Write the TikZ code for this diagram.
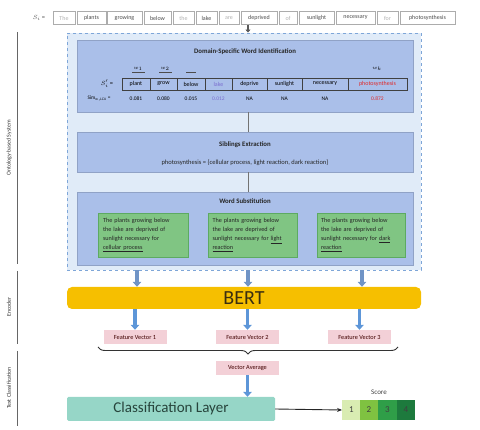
\documentclass[tikz,border=0pt]{standalone}
\usepackage{fontspec}
\setmainfont{Carlito}
\usetikzlibrary{arrows.meta,decorations.pathreplacing,calc}
\definecolor{ontfill}{HTML}{E0EBF8}
\definecolor{ontdraw}{HTML}{7EA6D8}
\definecolor{panel}{HTML}{AABFE9}
\definecolor{gbox}{HTML}{80C583}
\definecolor{gdraw}{HTML}{5DAA62}
\definecolor{bertc}{HTML}{F6BF00}
\definecolor{berttxt}{HTML}{3A2E10}
\definecolor{pinkc}{HTML}{F3D0D7}
\definecolor{clsc}{HTML}{96D6C7}
\definecolor{clstxt}{HTML}{27443C}
\definecolor{arrA}{HTML}{7094C6}
\definecolor{arrB}{HTML}{5D96D8}
\definecolor{purp}{HTML}{7B6FD0}
\definecolor{redw}{HTML}{E02828}
\definecolor{sc1}{HTML}{D9ECB2}
\definecolor{sc2}{HTML}{7FC241}
\definecolor{sc3}{HTML}{2F9E48}
\definecolor{sc4}{HTML}{1D7A3D}
\tikzset{
  word/.style={draw=gray!65, fill=white, minimum height=13pt, inner sep=0pt,
    font=\fontsize{6}{7}\selectfont, text=black!70},
  stopw/.style={word, text=black!30},
  sword/.style={draw=black!75, line width=0.6pt, minimum height=12pt, inner sep=0pt,
    font=\fontsize{6}{7}\selectfont},
  val/.style={font=\fontsize{5.5}{6}\selectfont, inner sep=0pt},
  panelbox/.style={fill=panel, draw=panel!85!black, line width=0.3pt, minimum width=336pt, inner sep=0pt},
  ptitle/.style={font=\bfseries\fontsize{6.8}{8}\selectfont, text=black!85, inner sep=0pt},
  greenbox/.style={fill=gbox, draw=gdraw, line width=0.4pt, minimum height=44pt, text width=80pt,
    inner sep=0pt, align=left, font=\fontsize{6.2}{9}\selectfont, text=black!85},
  fv/.style={fill=pinkc, minimum width=63pt, minimum height=14pt, inner sep=0pt,
    font=\fontsize{6.3}{7}\selectfont, text=black!75!red},
  fatA/.style={draw=arrA, line width=3.2pt, -{Triangle[length=5pt,width=8.5pt]}},
  fatB/.style={draw=arrB, line width=3.2pt, -{Triangle[length=5pt,width=8.5pt]}},
  link/.style={draw=black!55, line width=1pt},
  side/.style={font=\fontsize{5.8}{7}\selectfont, text=black!80, rotate=90, inner sep=0pt},
  sideline/.style={draw=black!60, line width=0.8pt},
  scorebox/.style={minimum width=18.5pt, minimum height=20pt, inner sep=0pt,
    font=\fontsize{9}{10}\selectfont, text=black!75},
}
\begin{document}
\begin{tikzpicture}[x=1pt,y=-1pt]
\useasboundingbox (0,0) rectangle (480,430);
\coordinate (ax) at (248,0);

% top sentence
\node[inner sep=0pt, font=\fontsize{6.5}{7}\selectfont, text=black!70] (si) at (39,18) {$S_i$ =};
\node[stopw, minimum width=22pt] (w1) at (64,18) {The};
\node[word, minimum width=29pt] (w2) at (91.5,18) {plants};
\node[word, minimum width=35pt] (w3) at (124.5,18) {growing};
\node[word, minimum width=27pt] (w4) at (157.5,18) {below};
\node[stopw, minimum width=21pt] (w5) at (183.5,18) {the};
\node[word, minimum width=21pt] (w6) at (206.5,18) {lake};
\node[stopw, minimum width=20pt] (w7) at (229,18) {are};
\node[word, minimum width=36pt] (w8) at (259,18) {deprived};
\node[stopw, minimum width=18pt] (w9) at (288,18) {of};
\node[word, minimum width=35pt] (w10) at (316.5,18) {sunlight};
\node[word, minimum width=39pt] (w11) at (355.5,18) {necessary};
\node[stopw, minimum width=21pt] (w12) at (387.5,18) {for};
\node[word, minimum width=55pt] (w13) at (427.5,18) {photosynthesis};

% outer dashed ontology box
\node[fill=ontfill, draw=ontdraw, dashed, line width=0.9pt, minimum width=354pt, minimum height=237pt, inner sep=0pt] (ont) at (244,151.5) {};

\draw[draw=black!65, line width=2.2pt, -{Triangle[length=3pt,width=5pt]}] (ax |- w8.south) -- (ax |- ont.north);

% domain-specific word identification
\node[panelbox, minimum height=72pt] (dom) at (245,76) {};
\node[ptitle] (domt) at (245,52) {Domain-Specific Word Identification};
\node[inner sep=0pt, font=\fontsize{6.5}{7}\selectfont] (sp) at (107,84) {$S'_i$ =};
\node[sword, minimum width=28pt] (s1) at (136,84) {plant};
\node[sword, minimum width=27pt] (s2) at (163.5,84) {grow};
\node[sword, minimum width=28pt] (s3) at (191,84) {below};
\node[sword, minimum width=27pt, text=purp] (s4) at (218.5,84) {lake};
\node[sword, minimum width=35pt] (s5) at (249.5,84) {deprive};
\node[sword, minimum width=35pt] (s6) at (284.5,84) {sunlight};
\node[sword, minimum width=46pt] (s7) at (325,84) {necessary};
\node[sword, minimum width=59pt, text=redw] (s8) at (377.5,84) {photosynthesis};
\node[inner sep=0pt, font=\fontsize{5.5}{6}\selectfont] (k1) at (138,69) {$w_1$};
\node[inner sep=0pt, font=\fontsize{5.5}{6}\selectfont] (k2) at (165,69) {$w_2$};
\node[inner sep=0pt, font=\fontsize{5.5}{6}\selectfont] (k8) at (377,69) {$w_k$};
\draw[black!70, line width=0.4pt] (132,73) -- (132,72) -- (144,72) -- (144,73);
\draw[black!70, line width=0.4pt] (159,73) -- (159,72) -- (171,72) -- (171,73);
\draw[black!70, line width=0.4pt] (186,72) -- (196,72);
\node[val, font=\fontsize{5.3}{6}\selectfont] (sl) at (99,99) {Sim$_{\mathit{w},\mathit{LCA}}$ =};
\node[val] (v1) at (s1 |- 0,99) {0.081};
\node[val] (v2) at (s2 |- 0,99) {0.080};
\node[val] (v3) at (s3 |- 0,99) {0.015};
\node[val, text=purp] (v4) at (s4 |- 0,99) {0.012};
\node[val] (v5) at (s5 |- 0,99) {NA};
\node[val] (v6) at (s6 |- 0,99) {NA};
\node[val] (v7) at (s7 |- 0,99) {NA};
\node[val, text=redw] (v8) at (s8 |- 0,99) {0.872};

% siblings extraction
\node[panelbox, minimum height=40pt] (sib) at (245,152) {};
\node[ptitle] (sibt) at (245,145) {Siblings Extraction};
\node[inner sep=0pt, font=\fontsize{6.5}{7}\selectfont, text=black!85] (sibx) at (245,163) {photosynthesis = \{cellular process, light reaction, dark reaction\}};
\draw[link] (ax |- dom.south) -- (ax |- sib.north);

% word substitution
\node[panelbox, minimum height=73pt] (sub) at (245,228.5) {};
\node[ptitle] (subt) at (245,201) {Word Substitution};
\draw[link] (ax |- sib.south) -- (ax |- sub.north);
\node[greenbox, minimum width=90pt] (g1) at (143,235) {The plants growing below\\the lake are deprived of\\sunlight necessary for\\\underline{cellular process}};
\node[greenbox, minimum width=89pt] (g2) at (252.5,235) {The plants growing below\\the lake are deprived of\\sunlight necessary for \underline{light}\\\underline{reaction}};
\node[greenbox, minimum width=88pt] (g3) at (361,235) {The plants growing below\\the lake are deprived of\\sunlight necessary for \underline{dark}\\\underline{reaction}};

% BERT
\node[fill=bertc, rounded corners=5pt, minimum width=354pt, minimum height=22pt, inner sep=0pt,
  font=\fontsize{20}{22}\selectfont, text=berttxt] (bert) at (244,298) {BERT};
\coordinate (a1) at (137,0);
\coordinate (a3) at (362,0);
\draw[fatA] (a1 |- ont.south) -- (a1 |- bert.north);
\draw[fatA] (ax |- ont.south) -- (ax |- bert.north);
\draw[fatA] (a3 |- ont.south) -- (a3 |- bert.north);

% feature vectors
\node[fv] (f1) at (135,337) {Feature Vector 1};
\node[fv] (f2) at (247.5,337) {Feature Vector 2};
\node[fv] (f3) at (359.5,337) {Feature Vector 3};
\draw[fatB] (f1.north |- bert.south) -- (f1.north);
\draw[fatB] (f2.north |- bert.south) -- (f2.north);
\draw[fatB] (f3.north |- bert.south) -- (f3.north);

\coordinate (brR) at (398,347);
\coordinate (brL) at (98,347);
\draw[black!80, line width=0.9pt, decorate, decoration={brace, amplitude=7pt}] (brR) -- (brL);
\node[fv] (va) at (247.5,368) {Vector Average};

% classification
\node[fill=clsc, rounded corners=1.5pt, minimum width=208pt, minimum height=24pt, inner sep=0pt,
  font=\fontsize{15}{17}\selectfont, text=clstxt] (cls) at (171,409) {Classification Layer};
\draw[fatB] (va.south) -- (va.south |- cls.north);

% score
\node[scorebox, fill=sc1] (n1) at (351.5,410) {1};
\node[scorebox, fill=sc2] (n2) at (369,410) {2};
\node[scorebox, fill=sc3] (n3) at (387.5,410) {3};
\node[scorebox, fill=sc4] (n4) at (406,410) {4};
\node[inner sep=0pt, font=\fontsize{7}{8}\selectfont, text=black!75] (sct) at (379,392) {Score};
\draw[black!85, line width=0.9pt, -{Stealth[length=5pt,width=4pt]}] (cls.east) -- (n1.west);

% side labels
\draw[sideline] (17,32) -- (17,264);
\draw[sideline] (17,271) -- (17,344);
\draw[sideline] (17,351) -- (17,426);
\node[side] (l1) at (9,148) {Ontology-based System};
\node[side] (l2) at (9,307) {Encoder};
\node[side] (l3) at (9,388) {Text Classification};
\end{tikzpicture}
\end{document}
